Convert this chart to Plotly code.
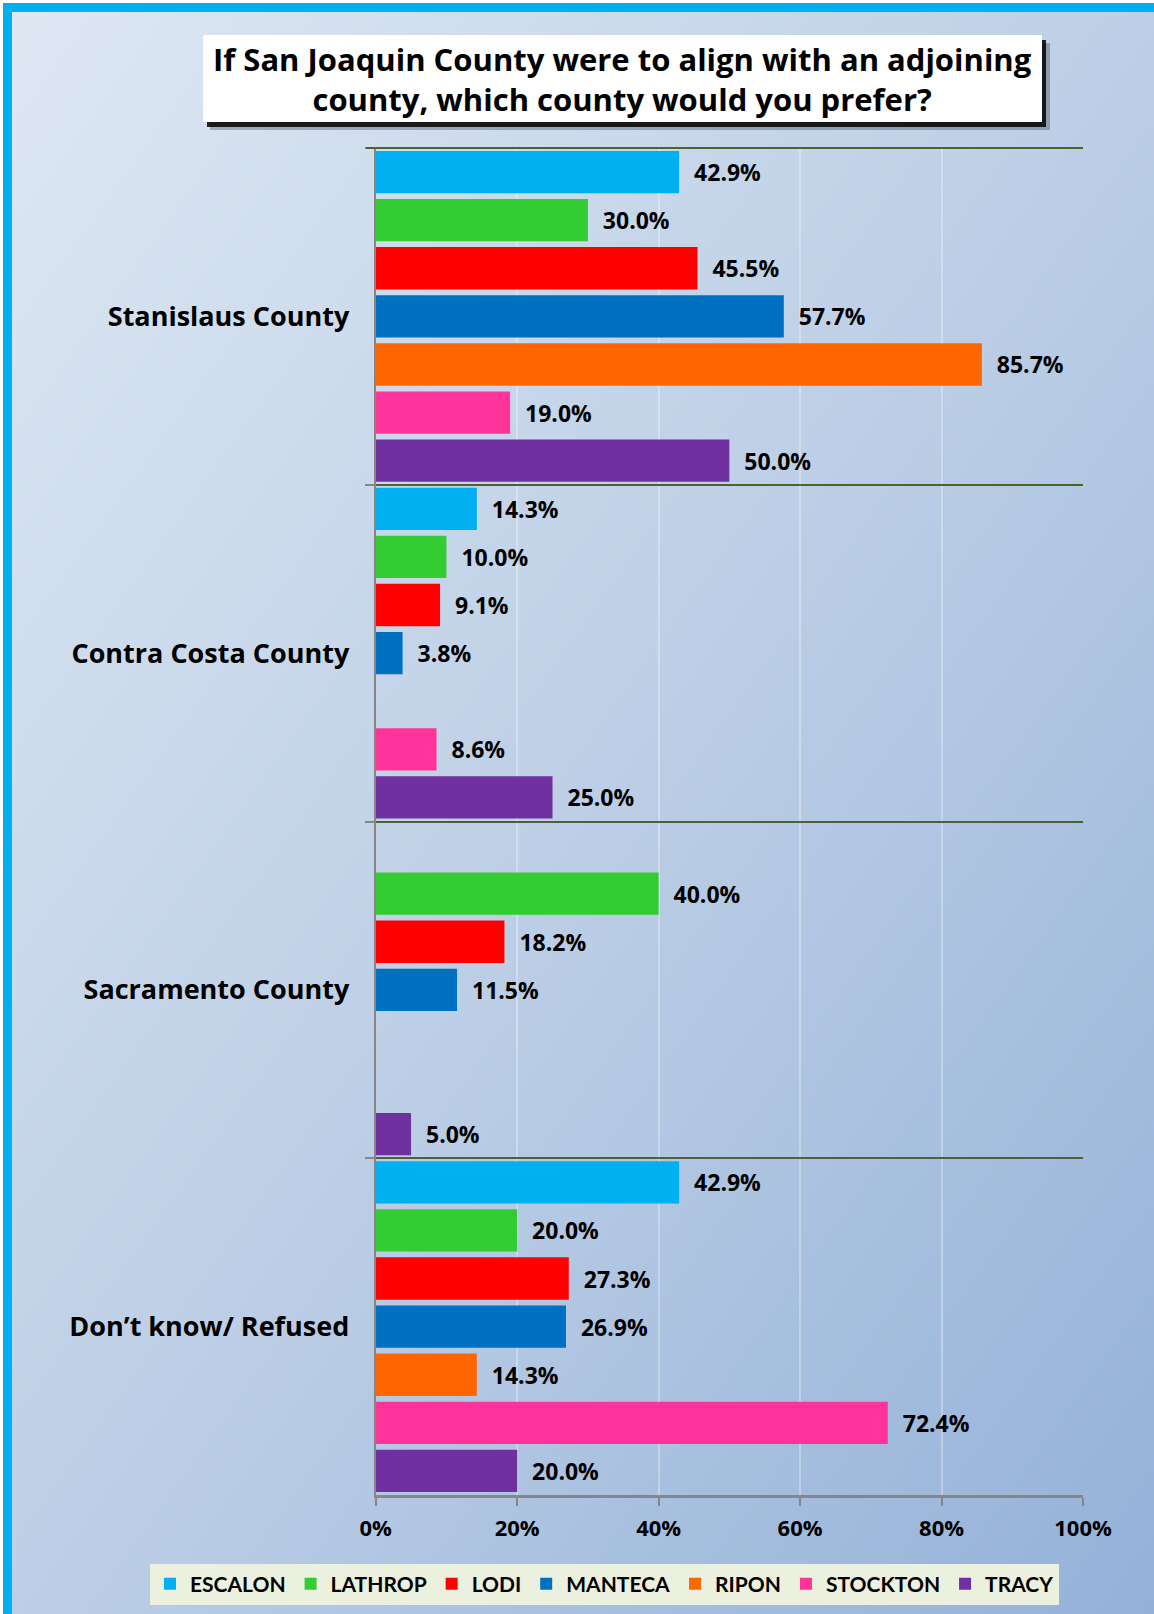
import base64
import plotly.graph_objects as go

W, H = 1154, 1614

categories = ["Stanislaus County", "Contra Costa County", "Sacramento County", "Don\u2019t know/ Refused"]
cities = ["ESCALON", "LATHROP", "LODI", "MANTECA", "RIPON", "STOCKTON", "TRACY"]
escalon = [42.9, 14.3, None, 42.9]
lathrop = [30.0, 10.0, 40.0, 20.0]
lodi = [45.5, 9.1, 18.2, 27.3]
manteca = [57.7, 3.8, 11.5, 26.9]
ripon = [85.7, None, None, 14.3]
stockton = [19.0, 8.6, None, 72.4]
tracy = [50.0, 25.0, 5.0, 20.0]
series = [escalon, lathrop, lodi, manteca, ripon, stockton, tracy]
colors = ["#00B0F0", "#33CC33", "#FF0000", "#0070C0", "#FF6600", "#FF3399", "#7030A0"]
x_ticks = [0, 20, 40, 60, 80, 100]
x_tick_labels = ["0%", "20%", "40%", "60%", "80%", "100%"]

FONT = "'Open Sans', Lato, sans-serif"
LEGEND_FONT = "Lato, 'Open Sans', sans-serif"


def px(x):
    return x / W


def py(y):
    return 1 - y / H


fig = go.Figure()
for name, vals, col in zip(cities, series, colors):
    fig.add_trace(go.Bar(
        y=categories, x=vals, name=name, orientation="h",
        marker=dict(color=col, line=dict(width=0)),
        texttemplate="  %{x:.1f}%", textposition="outside", cliponaxis=False,
        textfont=dict(family=FONT, size=23, color="black", weight=700),
        hoverinfo="skip",
    ))

svg = ('<svg xmlns="http://www.w3.org/2000/svg" width="1154" height="1614" viewBox="0 0 1154 1614" '
       'preserveAspectRatio="none"><defs><linearGradient id="g" x1="0" y1="0" x2="1" y2="1">'
       '<stop offset="0" stop-color="#DEE8F3"/><stop offset="0.5" stop-color="#BDCFE6"/>'
       '<stop offset="1" stop-color="#93B1D8"/></linearGradient></defs>'
       '<rect width="1154" height="1614" fill="url(#g)"/></svg>')
src = "data:image/svg+xml;base64," + base64.b64encode(svg.encode()).decode()

shapes = [
    # outer border
    dict(type="rect", xref="paper", yref="paper", x0=px(7.5), x1=px(W + 20), y0=py(H + 20), y1=py(7.5),
         line=dict(color="#00B0F0", width=9), fillcolor="rgba(0,0,0,0)", layer="above"),
    # title shadow
    dict(type="rect", xref="paper", yref="paper", x0=px(210), x1=px(1050), y0=py(130), y1=py(43),
         line=dict(width=0), fillcolor="rgba(0,0,0,0.25)", layer="above"),
    dict(type="rect", xref="paper", yref="paper", x0=px(207), x1=px(1046), y0=py(127), y1=py(40),
         line=dict(width=0), fillcolor="rgba(0,0,0,0.85)", layer="above"),
    # title box
    dict(type="rect", xref="paper", yref="paper", x0=px(203), x1=px(1042), y0=py(122), y1=py(35),
         line=dict(width=0), fillcolor="white", layer="above"),
    # top boundary line of the plot area
    dict(type="line", xref="paper", yref="paper", x0=px(366), x1=px(1083), y0=py(148), y1=py(148),
         line=dict(color="#4F6228", width=2), layer="above"),
]

fig.update_layout(
    width=W, height=H,
    margin=dict(l=0, r=0, t=0, b=0, autoexpand=False),
    paper_bgcolor="white",
    plot_bgcolor="rgba(0,0,0,0)",
    barmode="group", bargap=0.0, bargroupgap=0.12,
    images=[dict(source=src, xref="paper", yref="paper", x=px(3), y=py(3), sizex=1, sizey=1,
                 xanchor="left", yanchor="top", sizing="stretch", layer="below")],
    shapes=shapes,
    annotations=[dict(
        text="If San Joaquin County were to align with an adjoining<br>county, which county would you prefer?",
        xref="paper", yref="paper", x=px(622.5), y=py(79), xanchor="center", yanchor="middle",
        showarrow=False, font=dict(family=FONT, size=31, color="black", weight=700),
    )],
    xaxis=dict(
        domain=[px(375.7), px(1083)], range=[0, 100], tickmode="array",
        tickvals=x_ticks, ticktext=x_tick_labels, automargin=False,
        showgrid=True, gridcolor="rgba(255,255,255,0.3)", gridwidth=2,
        showline=True, linecolor="#868686", linewidth=3,
        ticks="outside", ticklen=8, tickcolor="#868686", tickwidth=2,
        tickfont=dict(family=FONT, size=22, color="black", weight=700),
        ticklabelstandoff=4,
        zeroline=False, fixedrange=True,
    ),
    yaxis=dict(
        domain=[py(1495), py(148)], type="category", categoryarray=categories,
        autorange="reversed", tickson="boundaries", automargin=False,
        showgrid=True, gridcolor="#4F6228", gridwidth=2,
        showline=True, linecolor="#868686", linewidth=2,
        ticks="outside", ticklen=9, tickcolor="#868686", tickwidth=2,
        tickfont=dict(family=FONT, size=27, color="black", weight=700),
        ticklabelstandoff=19,
        fixedrange=True,
    ),
    legend=dict(
        orientation="h", x=px(604.5), y=py(1584), xanchor="center", yanchor="middle",
        bgcolor="#EBF1DE", font=dict(family=LEGEND_FONT, size=21, color="black", weight=700),
        traceorder="normal", itemwidth=30, tracegroupgap=0,
    ),
    showlegend=True,
)

fig.write_html("out.html", config={"displayModeBar": False},
               post_script="document.body.style.margin='0';document.body.style.overflow='hidden';")
